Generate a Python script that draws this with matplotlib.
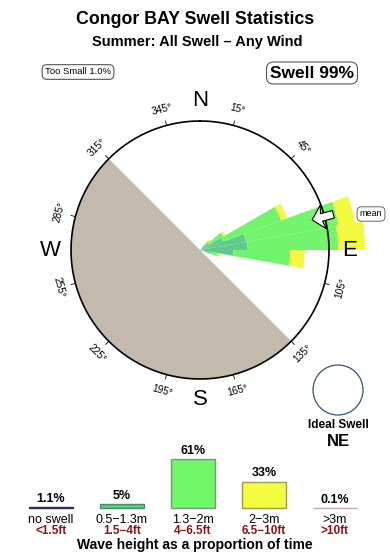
import numpy as np
import matplotlib
matplotlib.use("Agg")
import matplotlib.pyplot as plt
from matplotlib.patches import Polygon, Circle

plt.rcParams['font.family'] = ['Liberation Sans', 'DejaVu Sans']

# --- swell rose: 10 degree direction bins, radial length per size class
# (units: fraction of the compass circle radius)
bin_start = [40, 50, 60, 70, 80, 90, 100]
rose_05_13 = [0.06, 0.08, 0.19, 0.36, 0.37, 0.26, 0.08]
rose_13_2 = [0.03, 0.13, 0.48, 0.73, 0.70, 0.44, 0.06]
rose_2_3 = [0.02, 0.02, 0.05, 0.13, 0.21, 0.11, 0.02]
rose_colors = ['#62C98E', '#72F46C', '#F2F93E']

mean_dir = 75
land_from, land_to = 135, 315
deg_ticks = [15, 45, 75, 105, 135, 165, 195, 225, 255, 285, 315, 345]
cardinals = [('N', 0), ('E', 90), ('S', 180), ('W', 270)]

# --- wave height histogram
size_labels = ["no swell", "0.5\u22121.3m", "1.3\u22122m", "2\u22123m", ">3m"]
ft_labels = ["<1.5ft", "1.5\u22124ft", "4\u22126.5ft", "6.5\u221210ft", ">10ft"]
size_pct = [1.1, 5, 61, 33, 0.1]
pct_text = ["1.1%", "5%", "61%", "33%", "0.1%"]
bar_colors = ['#2B2B6E', '#62C98E', '#6EF86A', '#F4FC42', '#C4AAAA']
bar_edges = ['#2B2B6E', '#3F8F60', '#8A8A8A', '#9A9A50', '#C4AAAA']

W, H = 390, 560
fig = plt.figure(figsize=(W / 100, H / 100), dpi=100)


def fx(px):
    return px / W


def fy(py):
    return 1 - py / H


# titles and boxes
fig.text(fx(195), fy(20), "Congor BAY Swell Statistics", ha='center', va='center',
         fontsize=12.8, fontweight='bold')
fig.text(fx(197), fy(42), "Summer: All Swell \u2013 Any Wind", ha='center', va='center',
         fontsize=10.5, fontweight='bold')
fig.text(fx(78), fy(72), "Too Small 1.0%", ha='center', va='center', fontsize=6.8,
         bbox=dict(boxstyle='round,pad=0.3,rounding_size=0.5', fc='white', ec='#555555', lw=0.8))
fig.text(fx(312), fy(73), "Swell 99%", ha='center', va='center', fontsize=12.5,
         fontweight='bold',
         bbox=dict(boxstyle='round,pad=0.2,rounding_size=0.4', fc='white', ec='#555555', lw=0.8))

# --- rose axes (circle radius 129 px, centre at 200,250)
rmax = 1.35
rad_px = 129 * rmax
ax = fig.add_axes([fx(200 - rad_px), fy(250 + rad_px), 2 * rad_px / W, 2 * rad_px / H],
                  projection='polar')
ax.set_theta_zero_location('N')
ax.set_theta_direction(-1)
ax.set_ylim(0, rmax)
ax.axis('off')

# land (west half)
arc = np.radians(np.linspace(land_from, land_to, 200))
land_th = np.concatenate([arc, [arc[-1], arc[0]]])
land_r = np.concatenate([np.ones_like(arc), [0, 0]])
ax.fill(land_th, land_r, color='#C4B9AD', lw=0, zorder=2)

# wedges stacked by size class
theta = np.radians(np.array(bin_start) + 5)
bottom = np.zeros(len(bin_start))
for vals, col in zip([rose_05_13, rose_13_2, rose_2_3], rose_colors):
    ax.bar(theta, vals, width=np.radians(10), bottom=bottom, color=col,
           edgecolor='none', lw=0, zorder=3, clip_on=False)
    bottom = bottom + np.array(vals)

# compass circle, ticks, labels
circ = np.linspace(0, 2 * np.pi, 400)
ax.plot(circ, np.ones_like(circ), color='black', lw=1.2, zorder=5)
for b in deg_ticks:
    th = np.radians(b)
    ax.plot([th, th], [1.0, 1.035], color='black', lw=0.6, zorder=1, clip_on=False)
    rot = -b if (b < 90 or b > 270) else 180 - b
    ax.text(th, 1.13, f"{b}\u00b0", rotation=rot, rotation_mode='anchor',
            ha='center', va='center', fontsize=7.3, zorder=1)
for name, b in cardinals:
    ax.text(np.radians(b), 1.16, name, ha='center', va='center', fontsize=16, zorder=6)

# mean direction arrow
b = np.radians(mean_dir)
u = np.array([np.sin(b), np.cos(b)])
v = np.array([np.cos(b), -np.sin(b)])
pts = [0.90 * u, 0.99 * u + 0.095 * v, 0.975 * u + 0.03 * v, 1.07 * u + 0.03 * v,
       1.07 * u - 0.03 * v, 0.975 * u - 0.03 * v, 0.99 * u - 0.095 * v]
arrow = [(np.arctan2(p[0], p[1]), np.hypot(p[0], p[1])) for p in pts]
ax.add_patch(Polygon(arrow, closed=True, fc='white', ec='black', lw=0.8, zorder=6))
fig.text(fx(371), fy(214), "mean", ha='center', va='center', fontsize=6.5,
         bbox=dict(boxstyle='round,pad=0.3,rounding_size=0.5', fc='white', ec='#666666', lw=0.7))

# ideal swell marker
fig.patches.append(Circle((338 / 100, (H - 390) / 100), 0.25, transform=fig.dpi_scale_trans,
                          fc='white', ec='#34557A', lw=0.9))
fig.text(fx(338), fy(425), "Ideal Swell", ha='center', va='center', fontsize=8.5,
         fontweight='bold')
fig.text(fx(338), fy(441), "NE", ha='center', va='center', fontsize=12, fontweight='bold')

# --- histogram (bar centres 51 px + 71 px steps, baseline at y=508 px, 0.8 px per %)
hx = fig.add_axes([0, fy(508), 1, 68 / H])
hx.set_xlim(-51 / 71, (W - 51) / 71)
hx.set_ylim(0, 85)
hx.axis('off')
xs = np.arange(len(size_pct))
hx.bar(xs, size_pct, width=0.62, color=bar_colors, edgecolor=bar_edges, lw=1.0, clip_on=False)
for i, (p, t) in enumerate(zip(size_pct, pct_text)):
    hx.annotate(t, xy=(i, p), xytext=(0, 6.0), textcoords='offset points', ha='center',
                va='center', fontsize=9, fontweight='bold', annotation_clip=False)
    hx.annotate(size_labels[i], xy=(i, 0), xytext=(0, -8.3), textcoords='offset points',
                ha='center', va='center', fontsize=9, annotation_clip=False)
    hx.annotate(ft_labels[i], xy=(i, 0), xytext=(0, -16.2), textcoords='offset points',
                ha='center', va='center', fontsize=8.5, fontweight='bold', color='#861616',
                annotation_clip=False)
fig.text(fx(195), fy(545), "Wave height as a proportion of time", ha='center', va='center',
         fontsize=10, fontweight='bold')

fig.savefig("out.png", dpi=100)
